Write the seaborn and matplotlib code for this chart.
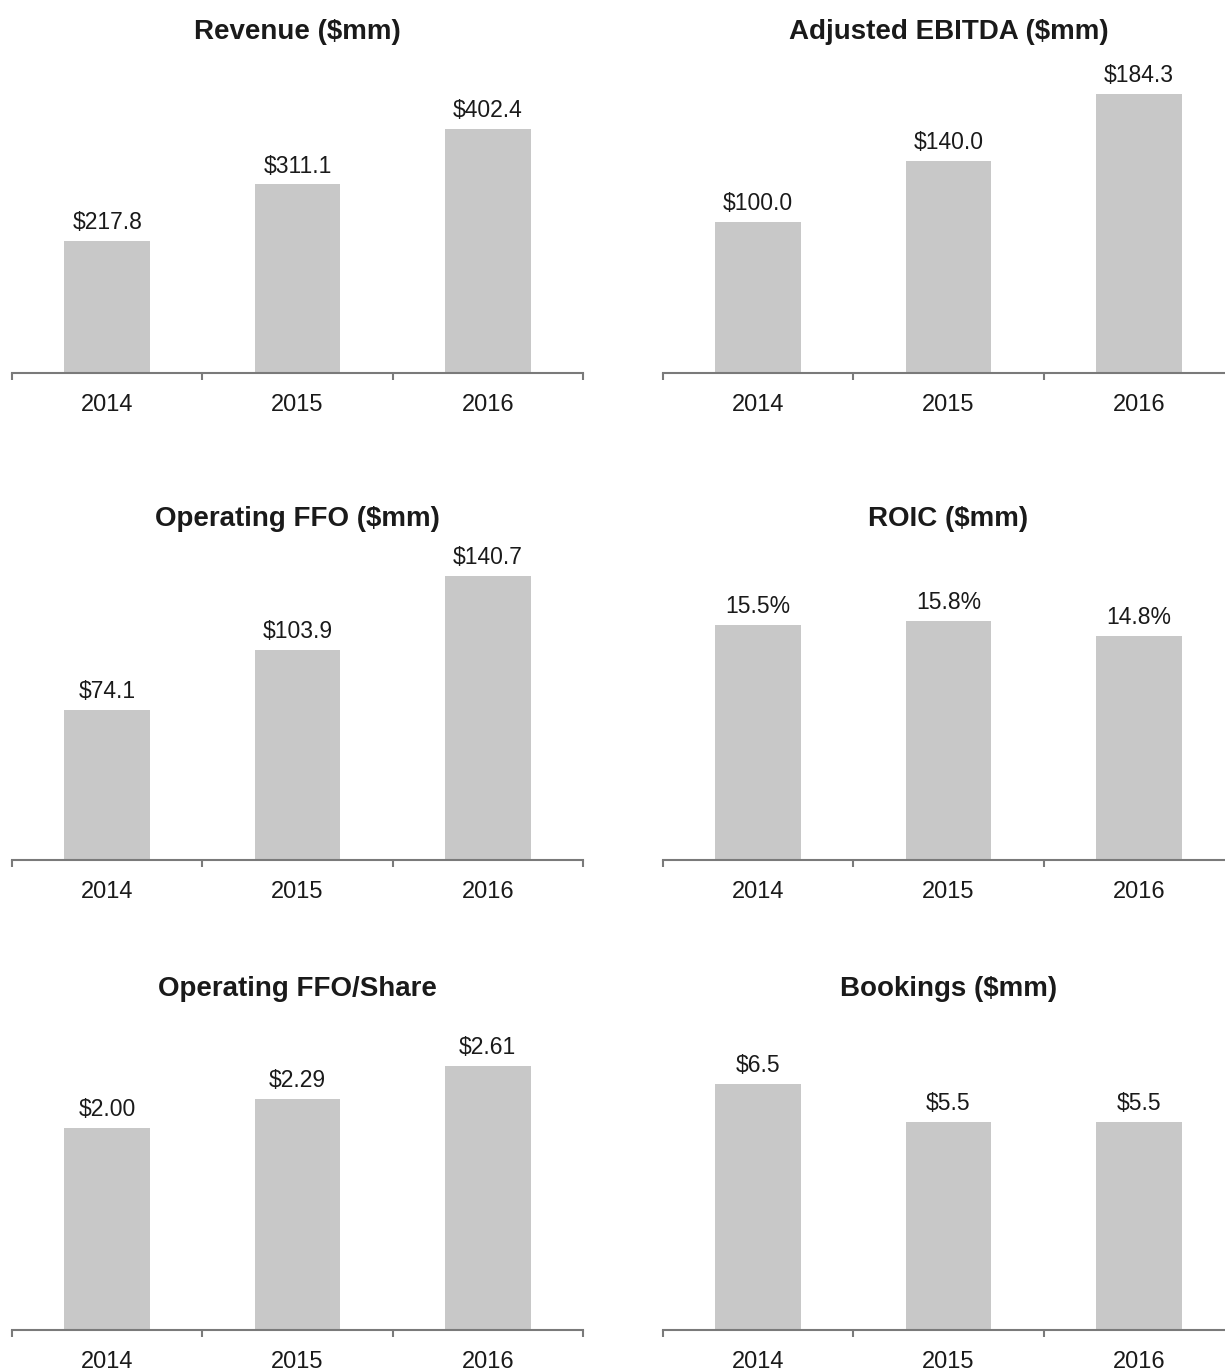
import matplotlib
matplotlib.use("Agg")
import matplotlib.pyplot as plt
import seaborn as sns
import pandas as pd

sns.set_theme(style="white")
plt.rcParams['font.family'] = ['Liberation Sans', 'DejaVu Sans']

years = ["2014", "2015", "2016"]
titles = ["Revenue ($mm)", "Adjusted EBITDA ($mm)", "Operating FFO ($mm)",
          "ROIC ($mm)", "Operating FFO/Share", "Bookings ($mm)"]
revenue = [217.8, 311.1, 402.4]
ebitda = [100.0, 140.0, 184.3]
ffo = [74.1, 103.9, 140.7]
roic = [15.5, 15.8, 14.8]
ffo_share = [2.00, 2.29, 2.61]
bookings = [6.5, 5.5, 5.5]
labels = [
    ["$217.8", "$311.1", "$402.4"],
    ["$100.0", "$140.0", "$184.3"],
    ["$74.1", "$103.9", "$140.7"],
    ["15.5%", "15.8%", "14.8%"],
    ["$2.00", "$2.29", "$2.61"],
    ["$6.5", "$5.5", "$5.5"],
]
series = [revenue, ebitda, ffo, roic, ffo_share, bookings]
ymaxes = [500, 200, 150, 20, 3.0, 8]

W, H = 1225, 1371
fig = plt.figure(figsize=(W / 100, H / 100), dpi=100)

lefts = [12, 663]
baselines = [373, 860, 1330]
ax_w = 571
ax_h = 303
bar_color = "#c8c8c8"
spine_color = "#7a7a7a"
text_color = "#1a1a1a"

for i, (vals, labs, title, ymax) in enumerate(zip(series, labels, titles, ymaxes)):
    r, c = divmod(i, 2)
    x0 = lefts[c]
    y0 = baselines[r]
    ax = fig.add_axes([x0 / W, 1 - y0 / H, ax_w / W, ax_h / H])
    df = pd.DataFrame({"year": years, "value": vals})
    sns.barplot(data=df, x="year", y="value", color=bar_color, width=0.45,
                saturation=1, ax=ax, edgecolor="none")
    ax.set_xlim(-0.5, 2.5)
    ax.set_ylim(0, ymax)
    for k, (v, lab) in enumerate(zip(vals, labs)):
        ax.annotate(lab, (k, v), xytext=(0, 5), textcoords="offset points",
                    ha="center", va="bottom", fontsize=16.5, color=text_color)
    ax.set_title(title, fontsize=20, fontweight="bold", pad=22.5, color=text_color)
    for s in ["top", "right", "left"]:
        ax.spines[s].set_visible(False)
    ax.spines["bottom"].set_color(spine_color)
    ax.spines["bottom"].set_linewidth(1.5)
    ax.set_yticks([])
    ax.set_xlabel("")
    ax.set_ylabel("")
    ax.set_xticks([0, 1, 2])
    ax.set_xticklabels(years, fontsize=17, color=text_color)
    ax.set_xticks([-0.5, 0.5, 1.5, 2.5], minor=True)
    ax.tick_params(axis="x", which="major", length=0, pad=15, bottom=True)
    ax.tick_params(axis="x", which="minor", length=5, width=1.5, color=spine_color,
                   direction="out", bottom=True)
    ax.patch.set_alpha(0)

fig.savefig("out.png", dpi=100, facecolor="white")
